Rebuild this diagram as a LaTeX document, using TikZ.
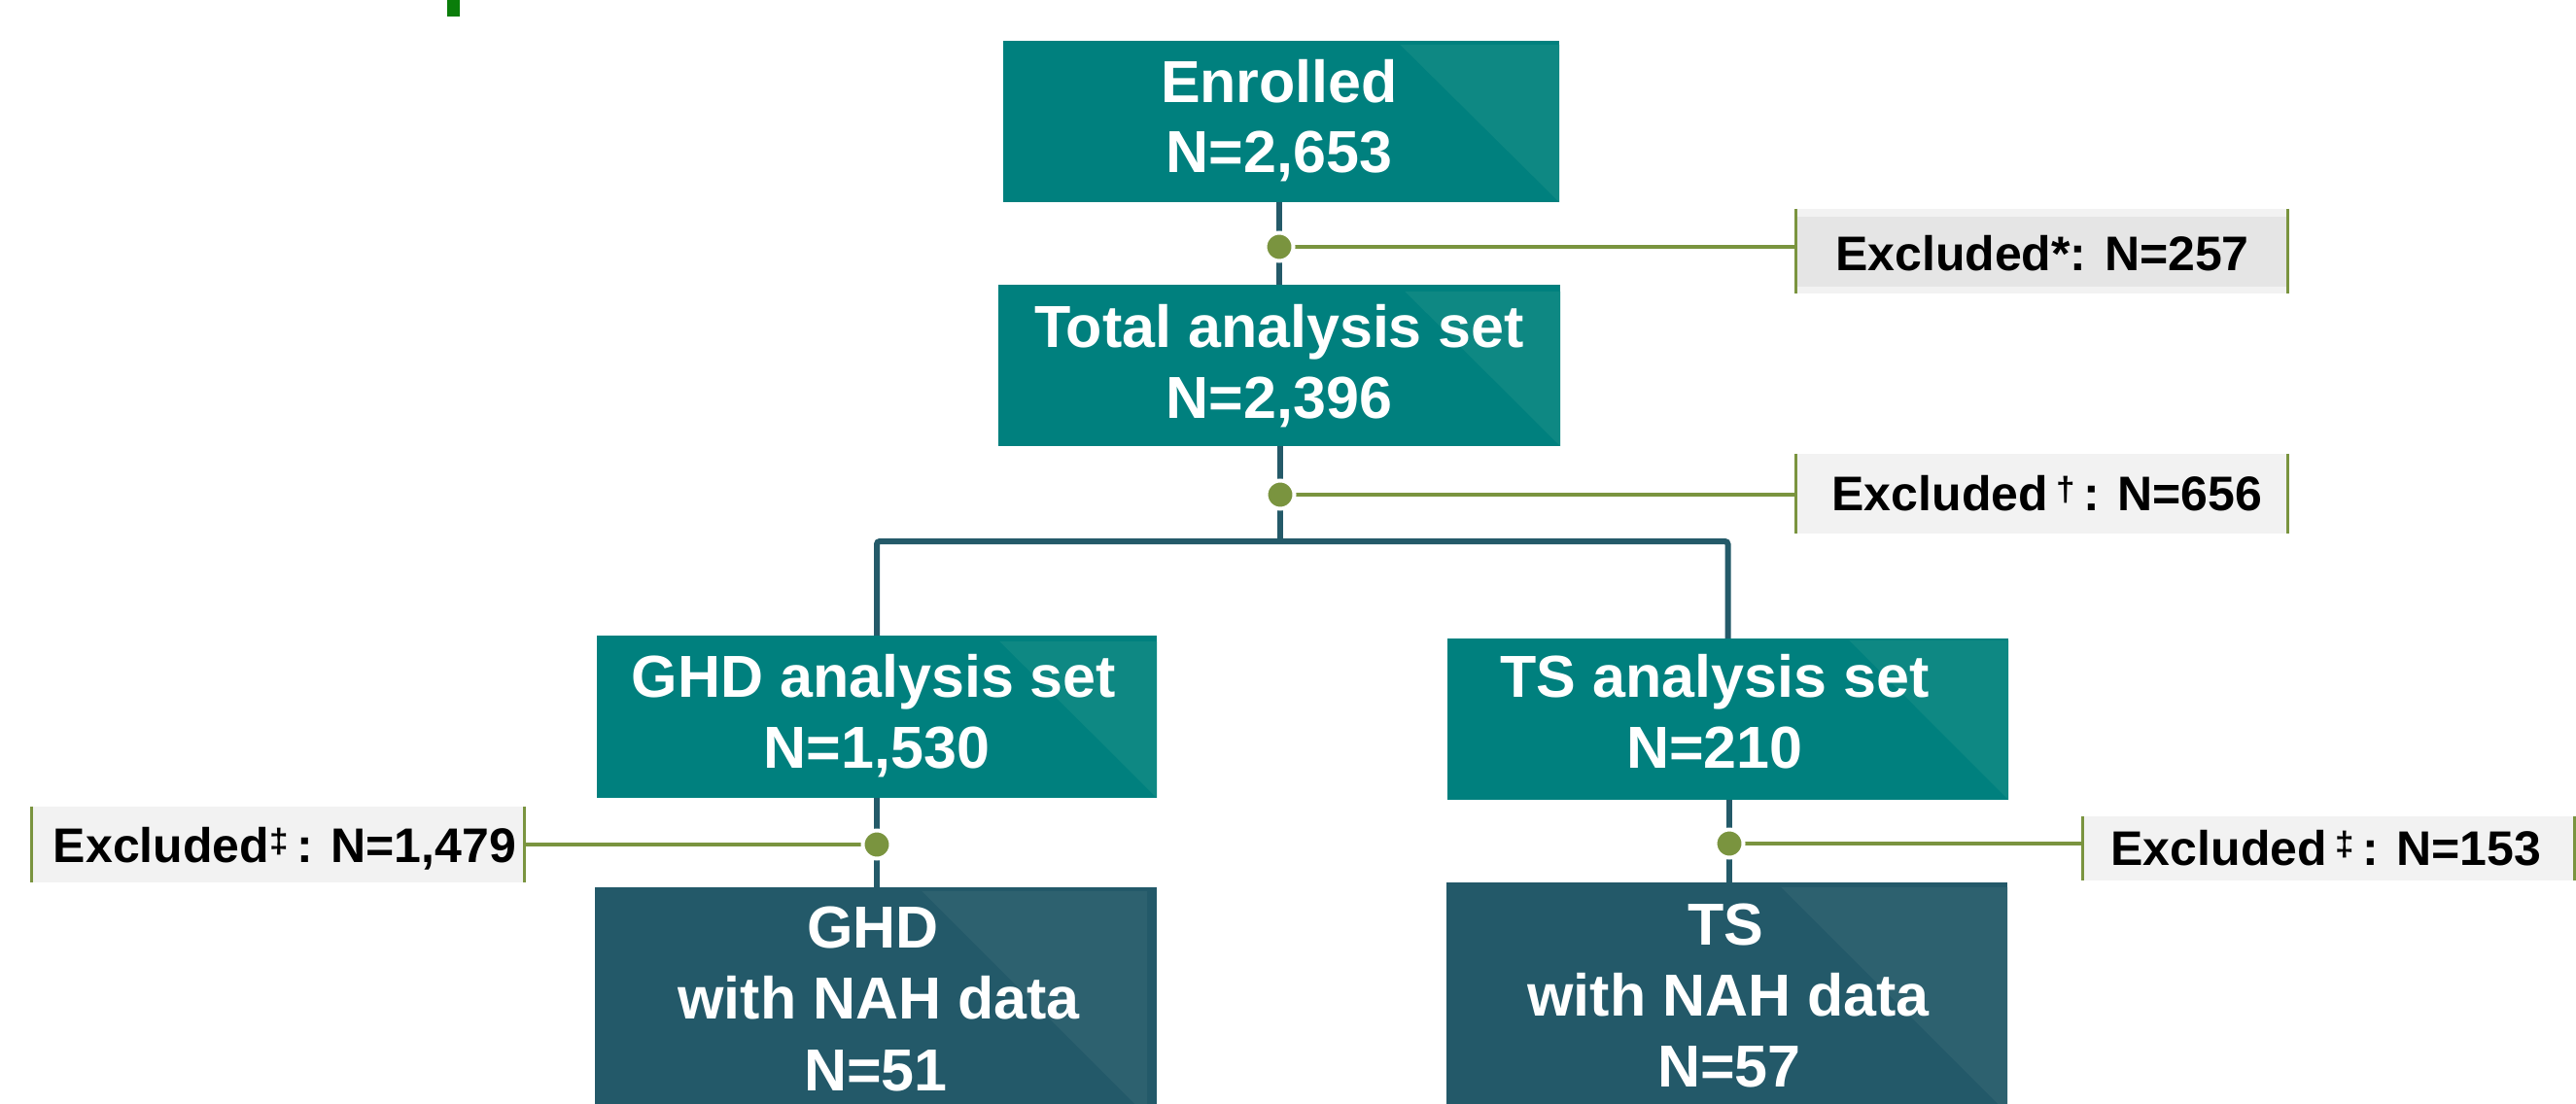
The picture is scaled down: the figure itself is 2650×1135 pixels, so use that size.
\documentclass[tikz,border=0pt]{standalone}
\usepackage{fontspec}
\setmainfont{Liberation Sans}
\definecolor{tealbox}{HTML}{00807E}
\definecolor{teallight}{HTML}{0E8883}
\definecolor{darkbox}{HTML}{235969}
\definecolor{darklight}{HTML}{2D616F}
\definecolor{connc}{HTML}{245A69}
\definecolor{olivec}{HTML}{7A943F}
\definecolor{exfill}{HTML}{F2F2F2}
\definecolor{exband}{HTML}{E5E5E5}
\definecolor{topgreen}{HTML}{0A7D0A}
\tikzset{
  tbox/.style={rectangle, fill=tealbox, draw=none, inner sep=0pt},
  dbox/.style={rectangle, fill=darkbox, draw=none, inner sep=0pt},
  exbox/.style={rectangle, fill=exfill, draw=none, inner sep=0pt},
  btxt/.style={anchor=base, inner sep=0pt, text=white, font=\fontsize{61}{73}\selectfont\bfseries},
  etxt/.style={anchor=base, inner sep=0pt, text=black, font=\fontsize{50}{60}\selectfont\bfseries},
  conn/.style={draw=connc, line width=6pt},
  gline/.style={draw=olivec, line width=4pt},
  gborder/.style={draw=olivec, line width=3pt},
  dotc/.style={circle, fill=olivec, draw=white, line width=4pt, minimum size=29pt, inner sep=0pt},
}
\begin{document}
\begin{tikzpicture}[x=1pt,y=-1pt]
\useasboundingbox (0,0) rectangle (2650,1135);
\clip (0,0) rectangle (2650,1135);
\fill[white] (0,0) rectangle (2650,1135);
\fill[topgreen] (460,0) rectangle (473,17);

% main boxes
\node[tbox, minimum width=572pt, minimum height=166pt] (enr) at (1318,125) {};
\node[tbox, minimum width=578pt, minimum height=166pt] (tot) at (1316,376) {};
\node[tbox, minimum width=576pt, minimum height=167pt] (ghd) at (902,737.5) {};
\node[tbox, minimum width=577pt, minimum height=166pt] (tsa) at (1777.5,740) {};
\node[dbox, minimum width=578pt, minimum height=290pt] (gnah) at (901,1058) {};
\node[dbox, minimum width=577pt, minimum height=294pt] (tnah) at (1776.5,1055) {};

% light triangles
\fill[teallight] ([xshift=-164pt,yshift=-4pt]enr.north east) -- ([yshift=-4pt]enr.north east) -- (enr.south east) -- cycle;
\fill[teallight] ([xshift=-160pt,yshift=-7pt]tot.north east) -- ([yshift=-7pt]tot.north east) -- (tot.south east) -- cycle;
\fill[teallight] ([xshift=-162pt,yshift=-6pt]ghd.north east) -- ([yshift=-6pt]ghd.north east) -- (ghd.south east) -- cycle;
\fill[teallight] ([xshift=-164pt,yshift=-2pt]tsa.north east) -- ([yshift=-2pt]tsa.north east) -- (tsa.south east) -- cycle;
\fill[darklight] ([xshift=-242pt,yshift=-4pt]gnah.north east) -- ([xshift=-10pt,yshift=-4pt]gnah.north east) -- ([xshift=-10pt,yshift=-236pt]gnah.north east) -- cycle;
\fill[darklight] ([xshift=-233pt,yshift=-5pt]tnah.north east) -- ([yshift=-5pt]tnah.north east) -- ([yshift=-238pt]tnah.north east) -- cycle;

% box texts
\node[btxt] (enrA) at (1316,105) {Enrolled};
\node[btxt] (enrB) at (1316,177) {N=2,653};
\node[btxt] (totA) at (1316,357) {Total analysis set};
\node[btxt] (totB) at (1316,430) {N=2,396};
\node[btxt] (ghdA) at (899,717) {GHD analysis set};
\node[btxt] (ghdB) at (902,790) {N=1,530};
\node[btxt] (tsaA) at (1764,717) {TS analysis set};
\node[btxt] (tsaB) at (1764,790) {N=210};
\node[btxt] (gnahA) at (898,975) {GHD};
\node[btxt] (gnahB) at (904,1048) {with NAH data};
\node[btxt] (gnahC) at (901,1122) {N=51};
\node[btxt] (tnahA) at (1775,972) {TS};
\node[btxt] (tnahB) at (1778,1045) {with NAH data};
\node[btxt] (tnahC) at (1779,1118) {N=57};

% excluded boxes
\node[exbox, minimum width=505pt, minimum height=87pt] (ex1) at (2100.5,258.5) {};
\fill[exband] ([yshift=-8pt]ex1.north west) rectangle ([yshift=7pt]ex1.south east);
\node[exbox, minimum width=505pt, minimum height=82pt] (ex2) at (2100.5,508) {};
\node[exbox, minimum width=506pt, minimum height=78pt] (ex3) at (286,869) {};
\node[exbox, minimum width=505pt, minimum height=66pt] (ex4) at (2395.5,873) {};
\foreach \e in {ex1,ex2,ex3,ex4}{
  \draw[gborder] (\e.north west) -- (\e.south west);
  \draw[gborder] (\e.north east) -- (\e.south east);
}
\node[etxt] (ex1t) at (2101,278) {Excluded*: N=257};
\node[etxt] (ex2t) at (2106,525) {Excluded\,\textsuperscript{†}\,: N=656};
\node[etxt] (ex3t) at (293,887) {Excluded\textsuperscript{‡}\,: N=1,479};
\node[etxt] (ex4t) at (2393,890) {Excluded\,\textsuperscript{‡}\,: N=153};

% junction points
\coordinate (d1) at (1316,254);
\coordinate (d2) at (1317,509);
\coordinate (br) at (1317,557);
\coordinate (d3) at (902,869);
\coordinate (d4) at (1779,868);

% dark connectors
\draw[conn] (d1 |- enr.south) -- (d1 |- tot.north);
\draw[conn] (d2 |- tot.south) -- (br);
\draw[conn, rounded corners=3pt] (ghd.north) -- (ghd.north |- br) -- (tsa.north |- br) -- (tsa.north);
\draw[conn] (d3 |- ghd.south) -- (d3 |- gnah.north);
\draw[conn] (d4 |- tsa.south) -- (d4 |- tnah.north);

% green connectors
\draw[gline] (d1) -- (d1 -| ex1.west);
\draw[gline] (d2) -- (d2 -| ex2.west);
\draw[gline] (d3) -- (d3 -| ex3.east);
\draw[gline] (d4) -- (d4 -| ex4.west);

% dots
\node[dotc] (dot1) at (d1) {};
\node[dotc] (dot2) at (d2) {};
\node[dotc] (dot3) at (d3) {};
\node[dotc] (dot4) at (d4) {};
\end{tikzpicture}
\end{document}
